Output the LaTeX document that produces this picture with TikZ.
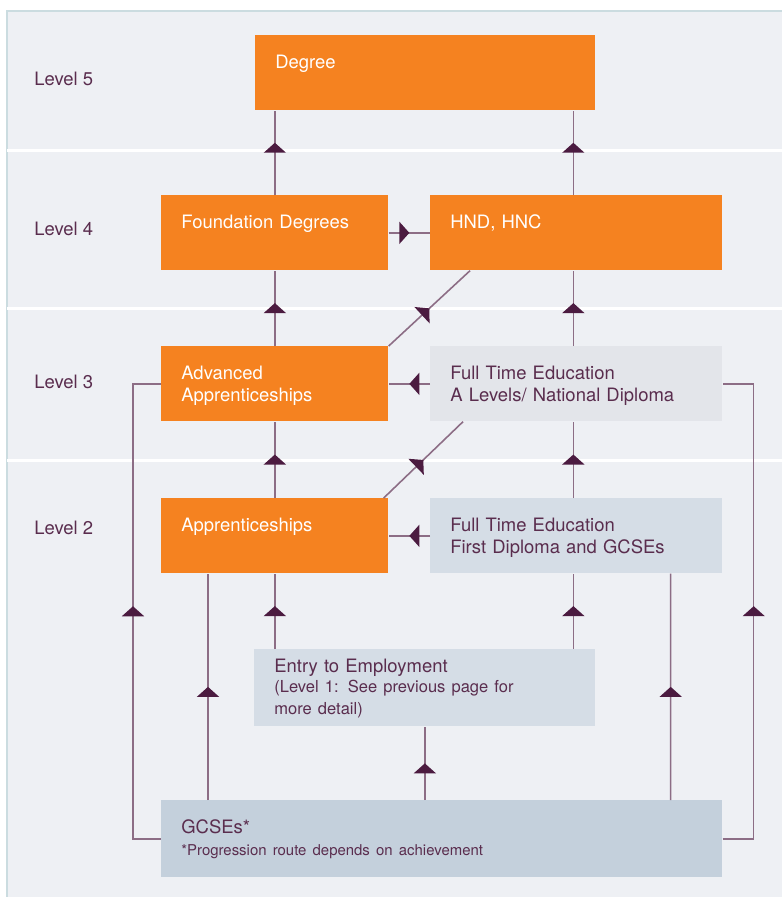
\documentclass[tikz,border=0pt]{standalone}
\usepackage{fontspec}
\setmainfont{TeX Gyre Heros}
\usetikzlibrary{arrows.meta,decorations.markings,calc}

\definecolor{bgpanel}{HTML}{EEF0F4}
\definecolor{panelrule}{HTML}{CBDCE0}
\definecolor{boxorange}{HTML}{F58220}
\definecolor{boxgreylight}{HTML}{E3E5EA}
\definecolor{boxgrey}{HTML}{D5DDE6}
\definecolor{boxgreydark}{HTML}{C4D0DC}
\definecolor{plum}{HTML}{5A2D4E}
\definecolor{linkline}{HTML}{8C6D85}
\definecolor{tipcol}{HTML}{4B1B40}

\tikzset{
  levelbox/.style={anchor=north west, inner xsep=0.4cm, inner ysep=0pt, align=left,
    text height=0.66cm, text depth=0.84cm, font=\fontsize{10.5}{12.8}\selectfont},
  orangebox/.style={levelbox, fill=boxorange, text=white},
  greybox/.style={levelbox, fill=#1, text=plum},
  levellabel/.style={anchor=base west, inner sep=0pt, text=plum, font=\fontsize{10.5}{12.8}\selectfont},
  link/.style={draw=linkline, line width=0.9pt},
  route/.style={link, postaction={decorate}, decoration={markings,
    mark=at position #1 with {\arrow{Triangle[width=0.44cm,length=0.2cm,color=tipcol]}}}},
  route/.default=0.5,
}

\begin{document}
\begin{tikzpicture}
\useasboundingbox (0,0) rectangle (15.64,-17.94);

% Panel
\fill[white] (0,0) rectangle (15.64,-17.94);
\fill[bgpanel] (0.14,-0.22) rectangle (15.64,-17.94);
\draw[panelrule, line width=0.9pt] (0.14,-17.94) -- (0.14,-0.22) -- (15.64,-0.22);
\foreach \y in {-3.00,-6.16,-9.20}
  \draw[white, line width=1.7pt] (0.15,\y) -- (15.64,\y);

% Levels
\node[levellabel] (lv5) at (0.68,-1.70) {Level 5};
\node[levellabel] (lv4) at (0.68,-4.70) {Level 4};
\node[levellabel] (lv3) at (0.68,-7.76) {Level 3};
\node[levellabel] (lv2) at (0.68,-10.68) {Level 2};

% Boxes
\node[orangebox, text width=6.0cm] (degree) at (5.10,-0.70) {Degree};
\node[orangebox, text width=3.74cm] (found) at (3.22,-3.90) {Foundation Degrees};
\node[orangebox, text width=5.04cm] (hnd) at (8.60,-3.90) {HND, HNC};
\node[orangebox, text width=3.74cm] (adv) at (3.22,-6.92) {Advanced\\Apprenticeships};
\node[greybox=boxgreylight, text width=5.04cm] (ftalevel) at (8.60,-6.92)
  {Full Time Education\\A Levels/ National Diploma};
\node[orangebox, text width=3.74cm] (appr) at (3.22,-9.96) {Apprenticeships};
\node[greybox=boxgrey, text width=5.04cm] (ftfirst) at (8.60,-9.96)
  {Full Time Education\\First Diploma and GCSEs};
\node[greybox=boxgrey, text width=6.02cm, text height=0.46cm, text depth=1.08cm] (e2e) at (5.08,-12.98)
  {Entry to Employment\\\fontsize{9.4}{11.4}\selectfont (Level 1: See previous page for\\more detail)};
\node[greybox=boxgreydark, text width=10.42cm, text height=0.66cm, text depth=0.88cm] (gcse) at (3.22,-16.00)
  {GCSEs*\\\fontsize{8.5}{11.4}\selectfont *Progression route depends on achievement};

% Level 4 to level 5
\draw[route=0.62] (found.north) -- (found.north |- degree.south);
\draw[route=0.62] ($(hnd.north)+(-0.06,0)$) -- ($(hnd.north |- degree.south)+(-0.06,0)$);
\draw[route] (found.east) -- (hnd.west);

% Level 3 to level 4
\draw[route=0.57] (adv.north) -- (adv.north |- found.south);
\draw[route=0.57] ($(ftalevel.north)+(-0.06,0)$) -- ($(ftalevel.north |- hnd.south)+(-0.06,0)$);
\draw[route] (adv.north east) -- ($(hnd.south west)+(0.8,0)$);
\draw[route] (ftalevel.west) -- (adv.east);

% Level 2 to level 3
\draw[route=0.57] (appr.north) -- (appr.north |- adv.south);
\draw[route=0.57] ($(ftfirst.north)+(-0.06,0)$) -- ($(ftfirst.north |- ftalevel.south)+(-0.06,0)$);
\draw[route] ($(appr.north east)+(-0.1,0)$) -- ($(ftalevel.south west)+(0.66,0)$);
\draw[route] (ftfirst.west) -- (appr.east);

% Entry to Employment
\draw[route=0.57] (e2e.north -| appr.north) -- (appr.south);
\draw[route=0.57] ($(e2e.north -| ftfirst.north)+(-0.06,0)$) -- ($(ftfirst.south)+(-0.06,0)$);

% GCSEs
\draw[route] ($(gcse.north west)+(0.94,0)$) -- ($(appr.south west)+(0.94,0)$);
\draw[route] (gcse.north -| e2e.south) -- (e2e.south);
\draw[route] ($(gcse.north east)+(-1.04,0)$) -- ($(ftfirst.south east)+(-1.04,0)$);
\draw[route=0.51] (gcse.west) -- ++(-0.56,0) |- (adv.west);
\draw[route=0.51] (gcse.east) -- ++(0.62,0) |- (ftalevel.east);
\end{tikzpicture}
\end{document}
